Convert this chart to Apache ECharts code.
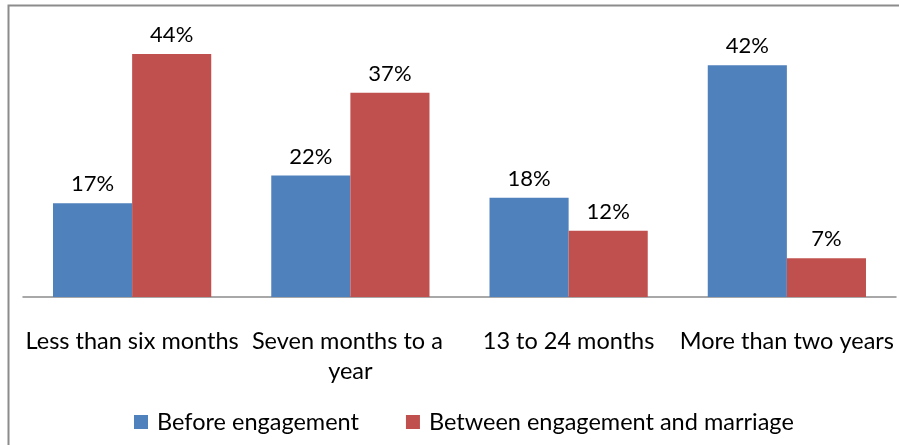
<!DOCTYPE html>
<html>
<head>
<meta charset="utf-8">
<script src="https://cdn.jsdelivr.net/npm/echarts@6/dist/echarts.min.js"></script>
<style>
  html, body { margin: 0; padding: 0; background: #fff; }
  #chart { width: 899px; height: 445px; }
</style>
</head>
<body>
<div id="chart"></div>
<script>
const categories = ["Less than six months", "Seven months to a year", "13 to 24 months", "More than two years"];
const beforeEngagement = [17, 22, 18, 42];
const betweenEngagementMarriage = [44, 37, 12, 7];
const seriesNames = ["Before engagement", "Between engagement and marriage"];

const font = "Lato, 'Open Sans', sans-serif";
const chart = echarts.init(document.getElementById("chart"));

const barLabel = {
  show: true,
  position: "top",
  distance: 8,
  formatter: "{c}%",
  color: "#000",
  fontSize: 22,
  fontFamily: font
};

chart.setOption({
  animation: false,
  graphic: [{
    type: "rect",
    shape: { x: 8.5, y: 5.5, width: 900, height: 450 },
    style: { fill: "none", stroke: "#8c8c8c", lineWidth: 2 }
  }],
  grid: { left: 23, right: 3, top: 21, bottom: 148, outerBoundsMode: "none" },
  legend: {
    top: 405,
    left: 129,
    itemWidth: 14,
    itemHeight: 14,
    itemGap: 47,
    icon: "rect",
    textStyle: { fontSize: 23.5, fontFamily: font, color: "#000", padding: [0, 0, 0, 4] },
    data: seriesNames
  },
  xAxis: {
    type: "category",
    data: categories,
    axisLine: { lineStyle: { color: "#8c8c8c", width: 1.5 } },
    axisTick: { show: false },
    axisLabel: {
      interval: 0,
      margin: 29,
      width: 220,
      overflow: "break",
      lineHeight: 30,
      fontSize: 23.5,
      fontFamily: font,
      color: "#000"
    }
  },
  yAxis: {
    type: "value",
    min: 0,
    max: 50,
    show: false,
    splitLine: { show: false }
  },
  series: [
    {
      name: seriesNames[0],
      type: "bar",
      data: beforeEngagement,
      itemStyle: { color: "#4f81bd" },
      barGap: "0%",
      barCategoryGap: "27.5%",
      label: barLabel
    },
    {
      name: seriesNames[1],
      type: "bar",
      data: betweenEngagementMarriage,
      itemStyle: { color: "#c0504d" },
      label: barLabel
    }
  ]
});
</script>
</body>
</html>
